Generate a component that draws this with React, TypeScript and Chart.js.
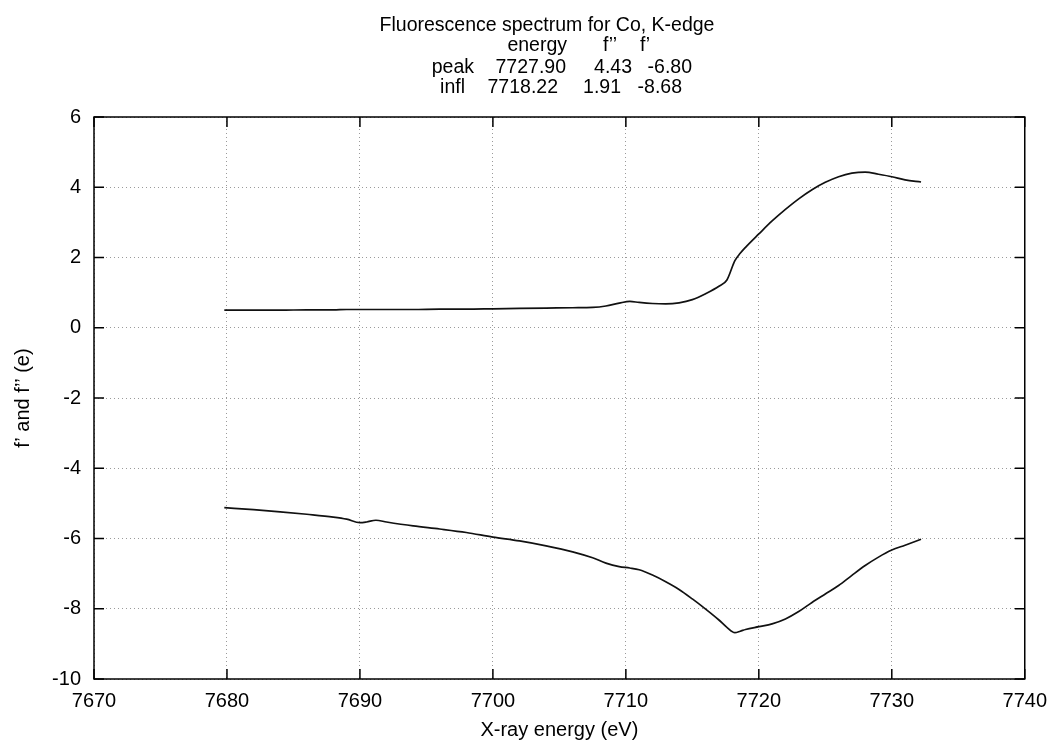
import { useEffect, useRef } from "react";
import { Chart, registerables } from "chart.js";

Chart.register(...registerables);

// X-ray energy grid (eV)
const energy = [
  7679.8, 7682, 7684, 7686, 7688, 7689, 7690, 7690.5, 7691.2, 7692, 7694, 7696, 7698, 7700,
  7702, 7704, 7706, 7707.5, 7708.5, 7709.5, 7710.3, 7711, 7712, 7713, 7714, 7715, 7716, 7717,
  7717.6, 7718.2, 7718.6, 7719, 7720, 7721, 7722, 7723, 7724, 7725, 7726, 7727, 7728, 7729,
  7730, 7731, 7732.2,
];

// f'' (upper curve)
const fDoublePrime = [
  0.5, 0.5, 0.5, 0.51, 0.51, 0.52, 0.52, 0.52, 0.52, 0.52, 0.52, 0.53, 0.53, 0.54,
  0.55, 0.56, 0.57, 0.58, 0.62, 0.7, 0.75, 0.72, 0.69, 0.68, 0.71, 0.8, 0.97, 1.18,
  1.36, 1.91, 2.12, 2.29, 2.67, 3.04, 3.37, 3.67, 3.93, 4.14, 4.3, 4.4, 4.43, 4.37,
  4.3, 4.21, 4.15,
];

// f' (lower curve)
const fPrime = [
  -5.12, -5.18, -5.24, -5.31, -5.39, -5.45, -5.55, -5.53, -5.48, -5.53, -5.64, -5.73, -5.83, -5.96,
  -6.07, -6.21, -6.38, -6.55, -6.7, -6.8, -6.84, -6.89, -7.04, -7.23, -7.45, -7.72, -8.01, -8.32,
  -8.53, -8.68, -8.64, -8.59, -8.51, -8.43, -8.29, -8.08, -7.82, -7.58, -7.34, -7.05, -6.77, -6.53,
  -6.33, -6.19, -6.02,
];

const xMin = 7670;
const xMax = 7740;
const xStep = 10;
const yMin = -10;
const yMax = 6;
const yStep = 2;

const titleText = "Fluorescence spectrum for Co, K-edge";
const headerRow = ["energy", "f\u2019\u2019", "f\u2019"];
const peakRow = ["peak", "7727.90", "4.43", "-6.80"];
const inflRow = ["infl", "7718.22", "1.91", "-8.68"];
const xTitle = "X-ray energy (eV)";
const yTitle = "f\u2019 and f\u2019\u2019 (e)";

const FONT_FAMILY = "'Liberation Sans', Arial, Helvetica, sans-serif";
const FONT_SIZE = 20;

const framePlugin = {
  id: "gnuFrame",
  afterDraw(chart: any) {
    const { ctx, chartArea, scales } = chart;
    const { left, right, top, bottom } = chartArea;
    const xs = scales.x;
    const ys = scales.y;
    ctx.save();
    ctx.strokeStyle = "#000";
    ctx.lineWidth = 1.5;
    ctx.setLineDash([]);
    ctx.strokeRect(left, top, right - left, bottom - top);
    ctx.beginPath();
    const tl = 10;
    xs.ticks.forEach((t: any) => {
      const px = xs.getPixelForValue(t.value);
      ctx.moveTo(px, bottom);
      ctx.lineTo(px, bottom - tl);
      ctx.moveTo(px, top);
      ctx.lineTo(px, top + tl);
    });
    ys.ticks.forEach((t: any) => {
      const py = ys.getPixelForValue(t.value);
      ctx.moveTo(left, py);
      ctx.lineTo(left + tl, py);
      ctx.moveTo(right, py);
      ctx.lineTo(right - tl, py);
    });
    ctx.stroke();

    // Titles
    ctx.fillStyle = "#000";
    ctx.font = `19.5px ${FONT_FAMILY}`;
    ctx.textBaseline = "alphabetic";
    ctx.textAlign = "center";
    ctx.fillText(titleText, 547, 31);

    ctx.textAlign = "right";
    const hdrRight = [567, 617, 650];
    headerRow.forEach((s, i) => ctx.fillText(s, hdrRight[i], 51));
    const peakRight = [474, 566, 632, 692];
    peakRow.forEach((s, i) => ctx.fillText(s, peakRight[i], 72.5));
    const inflRight = [465, 558, 621, 682];
    inflRow.forEach((s, i) => ctx.fillText(s, inflRight[i], 93));

    // axis titles
    ctx.font = `${FONT_SIZE}px ${FONT_FAMILY}`;
    ctx.textAlign = "center";
    ctx.textBaseline = "middle";
    ctx.fillText(xTitle, (left + right) / 2, 730);
    ctx.save();
    ctx.translate(23, (top + bottom) / 2);
    ctx.rotate(-Math.PI / 2);
    ctx.fillText(yTitle, 0, 0);
    ctx.restore();

    ctx.restore();
  },
};

export default function App() {
  const ref = useRef<HTMLCanvasElement | null>(null);

  useEffect(() => {
    if (!ref.current) return;
    const font = { family: FONT_FAMILY, size: FONT_SIZE };
    const chart = new Chart(ref.current, {
      type: "scatter",
      data: {
        datasets: [
          {
            label: "f''",
            data: energy.map((e, i) => ({ x: e, y: fDoublePrime[i] })),
            showLine: true,
            borderColor: "#111",
            borderWidth: 1.7,
            pointRadius: 0,
            cubicInterpolationMode: "monotone",
          },
          {
            label: "f'",
            data: energy.map((e, i) => ({ x: e, y: fPrime[i] })),
            showLine: true,
            borderColor: "#111",
            borderWidth: 1.7,
            pointRadius: 0,
            cubicInterpolationMode: "monotone",
          },
        ],
      },
      options: {
        responsive: false,
        animation: false,
        layout: { padding: { left: 0, right: 29, top: 117, bottom: 0 } },
        plugins: {
          legend: { display: false },
          tooltip: { enabled: false },
          title: { display: false },
        },
        scales: {
          x: {
            type: "linear",
            min: xMin,
            max: xMax,
            ticks: {
              stepSize: xStep,
              font,
              color: "#000",
              padding: 10,
              maxRotation: 0,
              autoSkip: false,
              callback: (v: any) => String(v),
            },
            grid: { color: "#9a9a9a", lineWidth: 1, drawTicks: false },
            border: { display: false, dash: [1, 3] },
            afterFit: (s: any) => {
              s.height = 66;
            },
          },
          y: {
            type: "linear",
            min: yMin,
            max: yMax,
            ticks: {
              stepSize: yStep,
              font,
              color: "#000",
              padding: 13,
              callback: (v: any) => String(v),
            },
            grid: { color: "#9a9a9a", lineWidth: 1, drawTicks: false },
            border: { display: false, dash: [1, 3] },
            afterFit: (s: any) => {
              s.width = 94;
            },
          },
        },
      },
      plugins: [framePlugin],
    } as any);
    return () => chart.destroy();
  }, []);

  return (
    <div style={{ position: "absolute", left: 0, top: 0, width: 1057, height: 745, background: "#fff" }}>
      <canvas ref={ref} width={1057} height={745} style={{ display: "block" }} />
    </div>
  );
}
